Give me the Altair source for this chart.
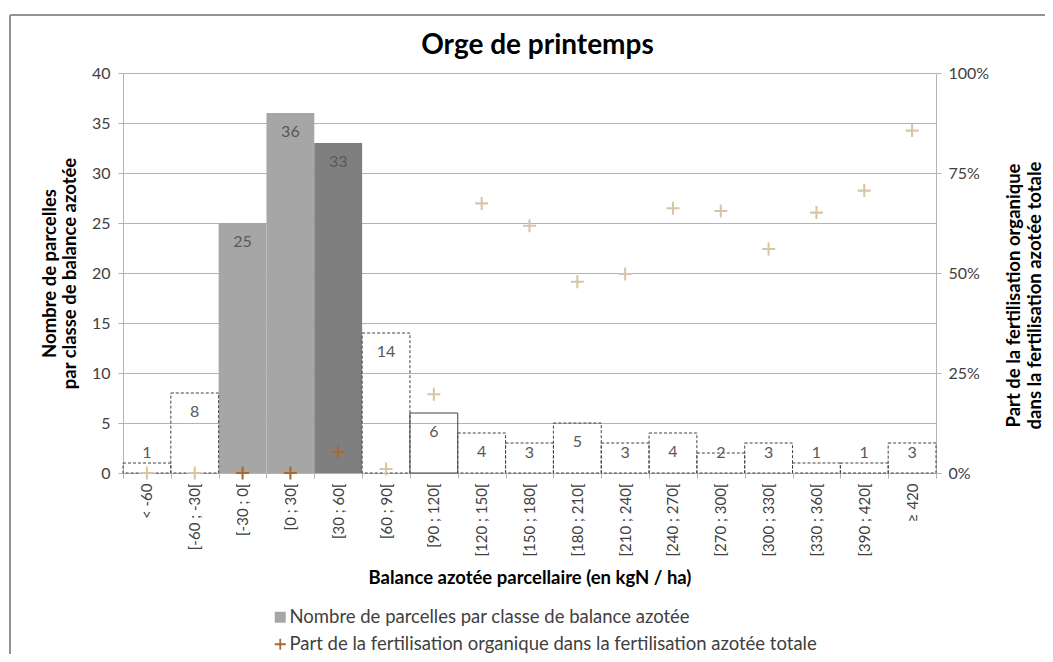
import altair as alt
import pandas as pd

categories = ["< -60", "[-60 ; -30[", "[-30 ; 0[", "[0 ; 30[", "[30 ; 60[", "[60 ; 90[",
              "[90 ; 120[", "[120 ; 150[", "[150 ; 180[", "[180 ; 210[", "[210 ; 240[",
              "[240 ; 270[", "[270 ; 300[", "[300 ; 330[", "[330 ; 360[", "[360 ; 390[",
              "[390 ; 420[", "≥ 420"]
counts = [1, 8, 25, 36, 33, 14, 6, 4, 3, 5, 3, 4, 2, 3, 1, 0, 1, 3]
shares = [0.0, 0.0, 0.0, 0.0, 0.053, 0.010, 0.197, 0.674, 0.618, 0.478, 0.4975,
          0.662, 0.655, 0.560, 0.651, None, 0.706, 0.856]
bar_style = ["dashed", "dashed", "light", "light", "dark", "dashed", "solid", "dashed",
             "dashed", "dashed", "dashed", "dashed", "dashed", "dashed", "dashed",
             "dashed", "dashed", "dashed"]
cross_group = ["other", "other", "focus", "focus", "focus", "other", "other", "other",
               "other", "other", "other", "other", "other", "other", "other", "other",
               "other", "other"]
legend_labels = ["Nombre de parcelles par classe de balance azotée",
                 "Part de la fertilisation organique dans la fertilisation azotée totale"]

FONT = "Lato"
GRID = "#b3b3b3"
TXT = "#404040"
TAN = "#d9c4a6"
BROWN = "#a8692f"
CROSS = "M-1,-0.16H-0.16V-1H0.16V-0.16H1V0.16H0.16V1H-0.16V0.16H-1Z"
TICK_FS = 16
TITLE_FS = 18.5

df = pd.DataFrame({"cat": categories, "n": counts, "share": shares,
                   "style": bar_style, "grp": cross_group})
leg_df = pd.DataFrame({"series": legend_labels})

X = alt.X("cat:N", sort=categories, title="Balance azotée parcellaire (en kgN / ha)",
          scale=alt.Scale(paddingInner=0, paddingOuter=0),
          axis=alt.Axis(labelAngle=270, tickBand="extent", tickSize=5, labelPadding=5,
                        labelFontSize=15, labelColor=TXT, domainColor=GRID, tickColor=GRID,
                        titleFontSize=TITLE_FS, titleFontWeight="bold", titleColor="black",
                        titleY=104, titleBaseline="middle", grid=False))
Ydom = alt.Scale(domain=[0, 40])
left_axis = alt.Axis(values=[0, 5, 10, 15, 20, 25, 30, 35, 40], grid=True,
                     gridColor=GRID, domainColor=GRID, tickColor=GRID, tickSize=5,
                     labelPadding=8, labelFontSize=TICK_FS, labelColor=TXT,
                     titleFontSize=TITLE_FS, titleFontWeight="bold", titleColor="black",
                     titleAngle=270, titleLineHeight=20, titleX=-74, titleY=200,
                     titleBaseline="middle")
left_title = ["Nombre de parcelles", "par classe de balance azotée"]


def yleft(field):
    return alt.Y(field, scale=Ydom, title=left_title, axis=left_axis)


base = alt.Chart(df)

filled = base.transform_filter(
    "datum.style == 'light' || datum.style == 'dark'"
).transform_calculate(
    fc="datum.style == 'dark' ? '#7f7f7f' : '#a6a6a6'"
).mark_bar().encode(x=X, y=yleft("n:Q"), color=alt.Color("fc:N", scale=None))

dashed = base.transform_filter("datum.style == 'dashed' && datum.n > 0").mark_bar(
    fillOpacity=0, stroke="#404040", strokeWidth=1, strokeDash=[3, 2]
).encode(x=X, y=yleft("n:Q"))

solid = base.transform_filter("datum.style == 'solid'").mark_bar(
    fillOpacity=0, stroke="#404040", strokeWidth=1
).encode(x=X, y=yleft("n:Q"))

labels = base.transform_filter("datum.n > 0").transform_calculate(
    ly="max(datum.n, 3.9)"
).mark_text(dy=19, fontSize=TICK_FS, font=FONT, color="#595959").encode(
    x=X, y=yleft("ly:Q"), text="n:Q")

leg = alt.Legend(title=None, orient="none", legendX=148, legendY=535,
                 direction="vertical", labelFontSize=18.5, labelColor=TXT,
                 labelFont=FONT, symbolSize=121, rowPadding=8,
                 labelOffset=0, padding=0, symbolOpacity=1,
                 symbolStrokeWidth=0, labelLimit=900)
legend_layer = alt.Chart(leg_df).mark_point(filled=True).encode(
    x=alt.value(0), y=alt.value(0), opacity=alt.value(0),
    color=alt.Color("series:N", scale=alt.Scale(domain=legend_labels, range=["#a6a6a6", BROWN]),
                    legend=leg),
    shape=alt.Shape("series:N", scale=alt.Scale(domain=legend_labels, range=["square", CROSS]),
                    legend=leg),
)

frame_top = alt.Chart(leg_df).mark_rule(color="#8c8c8c", strokeWidth=1.5).encode(
    x=alt.value(-113), x2=alt.value(930), y=alt.value(-58))
frame_left = alt.Chart(leg_df).mark_rule(color="#8c8c8c", strokeWidth=1.5).encode(
    x=alt.value(-113), y=alt.value(-58), y2=alt.value(600))

left = alt.layer(filled, dashed, solid, labels, legend_layer, frame_top, frame_left)

crosses = base.transform_filter("isValid(datum.share)").transform_calculate(
    cc=f"datum.grp == 'focus' ? '{BROWN}' : '{TAN}'"
).mark_point(filled=True, shape=CROSS, size=169, opacity=1).encode(
    x=X,
    y=alt.Y("share:Q", scale=alt.Scale(domain=[0, 1]),
            title=["Part de la fertilisation organique", "dans la fertilisation azotée totale"],
            axis=alt.Axis(orient="right", format=".0%", values=[0, 0.25, 0.5, 0.75, 1],
                          grid=False, domainColor=GRID, tickColor=GRID, tickSize=5,
                          labelPadding=7, labelFontSize=TICK_FS, labelColor=TXT,
                          titleFontSize=TITLE_FS, titleFontWeight="bold", titleColor="black",
                          titleAngle=270, titleLineHeight=21, titleX=77, titleY=222,
                          titleBaseline="middle")),
    color=alt.Color("cc:N", scale=None),
)

chart = alt.layer(left, crosses).resolve_scale(y="independent").properties(
    width=813, height=400,
    title=alt.TitleParams("Orge de printemps", fontSize=28, font=FONT, fontWeight="bold",
                          color="black", offset=14, dy=60, dx=8, anchor="middle",
                          frame="group"),
    autosize=alt.AutoSizeParams(type="none"),
    padding={"left": 115, "top": 65, "right": 109, "bottom": 181},
).configure(font=FONT).configure_view(stroke=None).configure_axis(
    labelFont=FONT, titleFont=FONT)

chart.save("out.html", embed_options={"renderer": "svg", "actions": False})
